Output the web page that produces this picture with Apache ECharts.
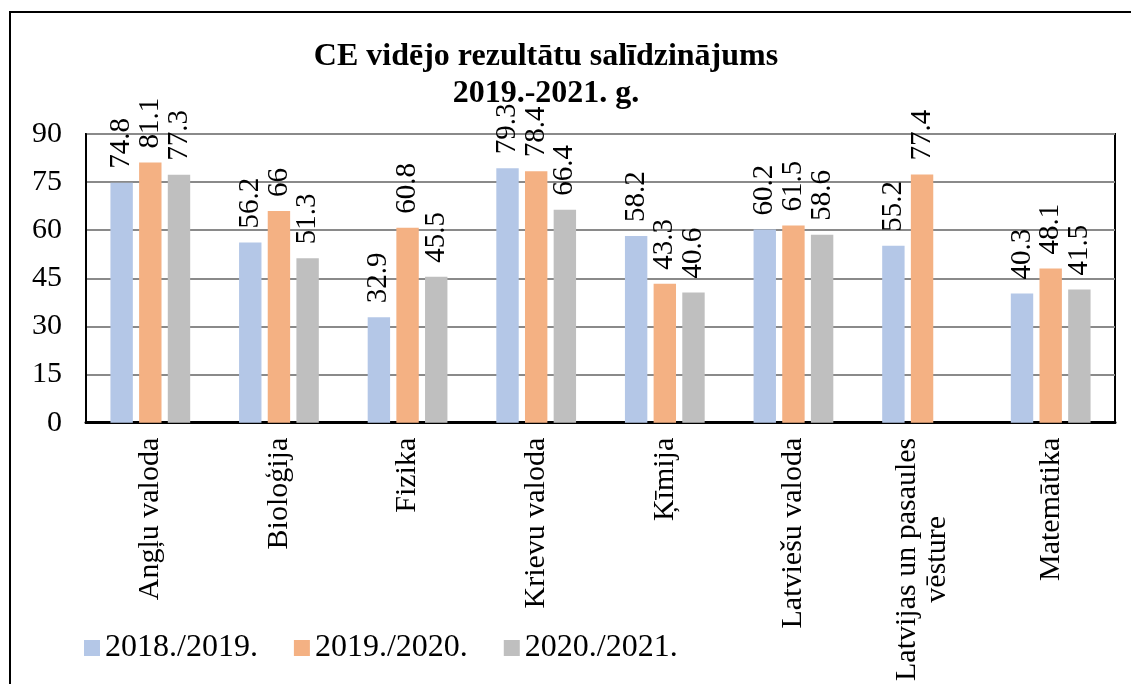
<!DOCTYPE html>
<html>
<head>
<meta charset="utf-8">
<script src="https://cdn.jsdelivr.net/npm/echarts@6/dist/echarts.min.js"></script>
<style>
html,body{margin:0;padding:0;background:#fff;}
#c{width:1131px;height:684px;}
</style>
</head>
<body>
<div id="c"></div>
<script>
var categories = ['Angļu valoda', 'Bioloģija', 'Fizika', 'Krievu valoda', 'Ķīmija', 'Latviešu valoda', 'Latvijas un pasaules\nvēsture', 'Matemātika'];
var seriesNames = ['2018./2019.', '2019./2020.', '2020./2021.'];
var values2019 = [74.8, 56.2, 32.9, 79.3, 58.2, 60.2, 55.2, 40.3];
var values2020 = [81.1, 66, 60.8, 78.4, 43.3, 61.5, 77.4, 48.1];
var values2021 = [77.3, 51.3, 45.5, 66.4, 40.6, 58.6, null, 41.5];
var yTicks = [0, 15, 30, 45, 60, 75, 90];
var colors = ['#B4C7E7', '#F4B183', '#BFBFBF'];

var FONT = 'Liberation Serif';
var chart = echarts.init(document.getElementById('c'));

function mkSeries(name, data, color) {
  return {
    name: name,
    type: 'bar',
    data: data,
    barGap: '28%',
    barCategoryGap: '38%',
    itemStyle: { color: color },
    label: {
      show: true,
      position: 'top',
      distance: 14,
      rotate: 90,
      align: 'left',
      verticalAlign: 'middle',
      color: '#000',
      fontFamily: FONT,
      fontSize: 29
    },
    emphasis: { disabled: true }
  };
}

chart.setOption({
  animation: false,
  textStyle: { fontFamily: FONT },
  graphic: [{
    type: 'rect',
    shape: { x: 10, y: 12, width: 1300, height: 900 },
    style: { fill: 'none', stroke: '#000', lineWidth: 2 },
    z: 100
  }],
  title: {
    text: 'CE vidējo rezultātu salīdzinājums\n2019.-2021. g.',
    left: 541,
    top: 33,
    textAlign: 'center',
    textStyle: {
      fontFamily: FONT,
      fontWeight: 'bold',
      fontSize: 32,
      lineHeight: 37,
      color: '#000'
    }
  },
  legend: {
    left: 79,
    top: 627,
    itemWidth: 16,
    itemHeight: 16,
    itemGap: 36,
    icon: 'rect',
    textStyle: { fontFamily: FONT, fontSize: 32, color: '#000', padding: [0, 0, 0, 0] },
    data: seriesNames
  },
  grid: {
    left: 86,
    right: 16,
    top: 134,
    bottom: 261,
    show: true,
    borderColor: '#000',
    borderWidth: 2,
    containLabel: false
  },
  xAxis: {
    type: 'category',
    data: categories,
    axisLine: { lineStyle: { color: '#000', width: 3 } },
    axisTick: { show: false },
    axisLabel: {
      interval: 0,
      rotate: 90,
      margin: 15,
      fontFamily: FONT,
      fontSize: 30,
      color: '#000',
      formatter: function (v) {
        return v.split('\n').map(function (s) { return '{c|' + s + '}'; }).join('\n');
      },
      rich: {
        c: { align: 'center', fontFamily: FONT, fontSize: 30, color: '#000', lineHeight: 30 }
      }
    }
  },
  yAxis: {
    type: 'value',
    min: yTicks[0],
    max: yTicks[yTicks.length - 1],
    interval: 15,
    axisLine: { show: true, lineStyle: { color: '#000', width: 2 } },
    axisTick: { show: false },
    splitLine: { lineStyle: { color: '#8a8a8a', width: 2 } },
    axisLabel: {
      margin: 24,
      fontFamily: FONT,
      fontSize: 30,
      color: '#000'
    }
  },
  series: [
    mkSeries(seriesNames[0], values2019, colors[0]),
    mkSeries(seriesNames[1], values2020, colors[1]),
    mkSeries(seriesNames[2], values2021, colors[2])
  ]
});
</script>
</body>
</html>
